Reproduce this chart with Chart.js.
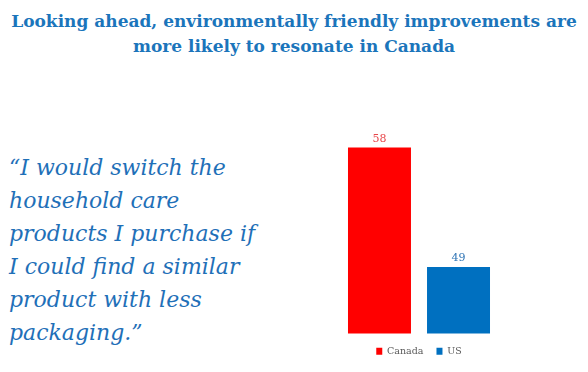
<!DOCTYPE html>
<html>
<head>
<meta charset="utf-8">
<script src="https://cdn.jsdelivr.net/npm/chart.js@4.4.1/dist/chart.umd.min.js"></script>
<style>
  html, body { margin: 0; padding: 0; background: #fff; }
  body { width: 588px; height: 372px; position: relative; overflow: hidden; }
  #title {
    position: absolute; left: 0; top: 9px; width: 588px;
    text-align: center; font-family: "DejaVu Serif", serif;
    font-weight: bold; font-size: 17px; line-height: 25px; color: #1b75bb;
    white-space: nowrap;
  }
  #quote {
    position: absolute; left: 9px; top: 151px; width: 320px;
    font-family: "DejaVu Serif", serif; font-style: italic;
    font-size: 22px; line-height: 33px; color: #1f70b8;
    white-space: nowrap;
  }
  #chart-box { position: absolute; left: 330px; top: 100px; width: 178px; height: 272px; }
</style>
</head>
<body>
<div id="title">Looking ahead, environmentally friendly improvements are<br>more likely to resonate in Canada</div>
<div id="quote">“I would switch the<br>household care<br>products I purchase if<br>I could find a similar<br>product with less<br>packaging.”</div>
<div id="chart-box"><canvas id="chart"></canvas></div>
<script>
// chart data
const categories = [''];
const seriesNames = ['Canada', 'US'];
const canadaValues = [58];
const usValues = [49];
const seriesColors = ['#ff0000', '#0070c0'];
const labelColors = ['#e8474b', '#2e74b5'];

// draw the value above each bar
const valueLabels = {
    id: 'valueLabels',
    afterDatasetsDraw(chart) {
        const ctx = chart.ctx;
        ctx.save();
        ctx.font = '11px "DejaVu Serif", serif';
        ctx.textAlign = 'center';
        ctx.textBaseline = 'bottom';
        chart.data.datasets.forEach((ds, i) => {
            chart.getDatasetMeta(i).data.forEach((bar, j) => {
                ctx.fillStyle = labelColors[i];
                ctx.fillText(ds.data[j], bar.x, bar.y - 3);
            });
        });
        ctx.restore();
    }
};

new Chart(document.getElementById('chart'), {
    type: 'bar',
    data: {
        labels: categories,
        datasets: [
            { label: seriesNames[0], data: canadaValues, backgroundColor: seriesColors[0] },
            { label: seriesNames[1], data: usValues, backgroundColor: seriesColors[1] }
        ]
    },
    options: {
        responsive: true,
        maintainAspectRatio: false,
        animation: false,
        categoryPercentage: 0.888,
        barPercentage: 0.797,
        layout: { padding: { top: 21, bottom: 6, left: 0, right: 0 } },
        scales: {
            x: { display: false },
            y: { display: false, min: 44, max: 60 }
        },
        plugins: {
            tooltip: { enabled: false },
            legend: {
                position: 'bottom',
                labels: {
                    boxWidth: 6,
                    boxHeight: 7,
                    padding: 13,
                    color: '#595959',
                    font: { family: '"DejaVu Serif", serif', size: 9.5 }
                }
            }
        }
    },
    plugins: [valueLabels]
});
</script>
</body>
</html>
